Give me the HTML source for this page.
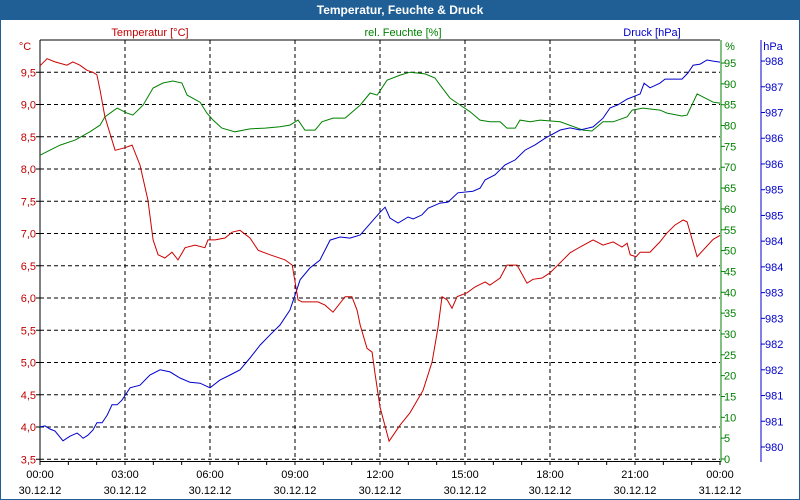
<!DOCTYPE html>
<html><head><meta charset="utf-8"><style>
html,body{margin:0;padding:0;background:#fff;}
svg{display:block;font-family:"Liberation Sans",sans-serif;}
</style></head><body>
<svg id="chart" width="800" height="500" viewBox="0 0 800 500">
<rect x="0" y="0" width="800" height="500" fill="#fff" stroke="#1f5f96" stroke-width="2"/>
<rect x="0" y="0" width="800" height="20" fill="#1f5f96"/>
<text x="400" y="14" text-anchor="middle" fill="#fff" font-size="12" font-weight="bold">Temperatur, Feuchte &amp; Druck</text>
<text x="150" y="36" text-anchor="middle" fill="#c00000" font-size="11">Temperatur [°C]</text>
<text x="403" y="36" text-anchor="middle" fill="#008000" font-size="11">rel. Feuchte [%]</text>
<text x="652" y="36" text-anchor="middle" fill="#0000cc" font-size="11">Druck [hPa]</text>
<text x="25" y="50" text-anchor="middle" fill="#c00000" font-size="11">°C</text>
<text x="730" y="50" text-anchor="middle" fill="#008000" font-size="11">%</text>
<text x="773" y="50" text-anchor="middle" fill="#0000cc" font-size="11">hPa</text>
<g id="grid"></g>
<g id="axes"></g>
<g id="series"></g>
</svg>
<script>
const NS="http://www.w3.org/2000/svg";
const tempTicks=[3.5,4.0,4.5,5.0,5.5,6.0,6.5,7.0,7.5,8.0,8.5,9.0,9.5];
const tempTickLabels=["3,5","4,0","4,5","5,0","5,5","6,0","6,5","7,0","7,5","8,0","8,5","9,0","9,5"];
const humTicks=[0,5,10,15,20,25,30,35,40,45,50,55,60,65,70,75,80,85,90,95];
const presTicks=[980.3,980.8,981.3,981.8,982.3,982.8,983.3,983.8,984.3,984.8,985.3,985.8,986.3,986.8,987.3,987.8];
const presTickLabels=["980","981","981","982","982","983","983","984","984","985","985","986","986","987","987","988"];
const timeTicks=[0,3,6,9,12,15,18,21,24];
const timeLabels=["00:00","03:00","06:00","09:00","12:00","15:00","18:00","21:00","00:00"];
const dateLabels=["30.12.12","30.12.12","30.12.12","30.12.12","30.12.12","30.12.12","30.12.12","30.12.12","31.12.12"];

const tempHours=[0,0.25,0.53,0.95,1.16,1.41,1.66,1.87,2.01,2.12,2.29,2.65,3.0,3.25,3.53,3.81,3.99,4.17,4.41,4.66,4.87,5.12,5.47,5.82,5.93,6.18,6.53,6.78,7.06,7.41,7.70,8.12,8.65,8.90,9.11,9.25,9.81,10.06,10.34,10.77,11.01,11.19,11.30,11.54,11.72,11.82,12.0,12.32,12.71,13.06,13.52,13.84,14.05,14.19,14.37,14.54,14.72,15.07,15.35,15.71,15.88,16.24,16.48,16.84,17.19,17.40,17.72,18.0,18.25,18.71,19.06,19.52,19.87,20.23,20.54,20.72,20.83,21.04,21.18,21.53,21.88,22.13,22.41,22.70,22.84,23.19,23.76,24];
const tempValues=[9.60,9.71,9.66,9.61,9.66,9.61,9.53,9.50,9.46,9.22,8.81,8.29,8.33,8.37,8.06,7.52,6.90,6.67,6.62,6.71,6.59,6.78,6.82,6.78,6.90,6.90,6.93,7.02,7.05,6.93,6.74,6.67,6.59,6.51,5.97,5.94,5.94,5.89,5.78,6.02,6.02,5.81,5.58,5.22,5.16,4.84,4.31,3.78,4.03,4.22,4.57,5.01,5.55,6.02,5.97,5.84,6.02,6.08,6.17,6.25,6.20,6.31,6.51,6.51,6.23,6.29,6.31,6.39,6.50,6.70,6.79,6.90,6.82,6.87,6.79,6.85,6.67,6.64,6.71,6.71,6.87,7.01,7.13,7.21,7.18,6.64,6.91,6.97];

const humHours=[0,0.35,0.71,1.24,1.76,2.12,2.29,2.72,3.07,3.28,3.64,3.99,4.34,4.69,5.01,5.19,5.65,5.89,6.11,6.42,6.88,7.41,7.94,8.47,8.82,9.11,9.35,9.71,9.95,10.34,10.77,11.30,11.65,11.90,12.25,12.71,13.06,13.59,13.94,14.12,14.47,14.83,15.18,15.53,15.88,16.24,16.48,16.77,16.94,17.30,17.65,18.36,19.17,19.48,19.87,20.23,20.72,20.90,21.28,21.88,22.13,22.66,22.84,23.19,23.76,24];
const humValues=[72.9,74.1,75.3,76.5,78.5,80.1,82.1,84.2,83.0,82.5,84.9,89.0,90.2,90.7,90.2,87.3,85.6,83.0,81.3,79.4,78.5,79.2,79.4,79.7,80.1,81.3,78.9,78.9,80.9,81.8,81.8,84.9,87.8,87.3,90.9,92.1,92.8,92.4,91.4,89.7,86.6,84.9,83.3,81.3,80.9,80.9,79.4,79.4,81.3,80.9,81.3,80.9,78.9,78.7,80.9,80.9,82.1,83.7,84.2,83.7,83.0,82.3,82.5,87.6,85.6,85.4];

const presHours=[0,0.18,0.35,0.53,0.81,1.06,1.31,1.41,1.52,1.69,1.87,2.01,2.19,2.37,2.54,2.72,2.89,3.18,3.53,3.88,4.24,4.59,4.94,5.29,5.65,6.00,6.35,6.71,7.06,7.41,7.77,8.12,8.47,8.82,9.00,9.18,9.53,9.88,10.24,10.59,10.94,11.30,12.0,12.18,12.35,12.64,12.99,13.17,13.48,13.70,14.12,14.40,14.75,15.28,15.53,15.71,16.06,16.41,16.77,17.12,17.47,17.83,18.36,18.71,19.06,19.52,19.87,20.12,20.40,20.72,21.18,21.32,21.53,21.88,22.06,22.66,22.87,23.05,23.30,23.54,23.76,24];
const presValues=[980.69,980.71,980.65,980.61,980.42,980.51,980.57,980.53,980.47,980.53,980.63,980.77,980.77,980.92,981.12,981.12,981.21,981.45,981.50,981.70,981.80,981.76,981.64,981.56,981.54,981.45,981.60,981.70,981.80,982.03,982.28,982.48,982.67,982.96,983.25,983.55,983.78,983.93,984.32,984.38,984.36,984.42,984.86,984.96,984.75,984.65,984.77,984.73,984.81,984.94,985.04,985.06,985.24,985.27,985.33,985.49,985.59,985.78,985.88,986.07,986.17,986.30,986.46,986.50,986.46,986.52,986.69,986.89,986.95,987.06,987.16,987.37,987.28,987.37,987.45,987.45,987.57,987.72,987.74,987.82,987.80,987.78];

const X0=40, X1=720, YTOP=40, YBOT=459;
function xs(h){return X0+h*(X1-X0)/24;}
function yT(v){return YTOP+(10-v)*64.5;}
function yH(v){return 459-v*4.168;}
function yP(p){return 447-(p-980.3)*51.46;}
function mk(tag,attrs,parent){const e=document.createElementNS(NS,tag);for(const k in attrs)e.setAttribute(k,attrs[k]);parent.appendChild(e);return e;}
const grid=document.getElementById('grid'), axes=document.getElementById('axes'), series=document.getElementById('series');

tempTicks.forEach((v,i)=>{
  const l=mk('line',{x1:X0,x2:X1,y1:yT(v),y2:yT(v),stroke:'#000','stroke-dasharray':'4,3'},grid);
  
  
  const tk=mk('line',{x1:X0-4,x2:X0,y1:yT(v),y2:yT(v),stroke:'#000'},axes);
  
  
  const t=mk('text',{x:X0-4,y:yT(v)+4,'text-anchor':'end',fill:'#c00000','font-size':'11'},axes);
  t.textContent=tempTickLabels[i];
  
  
});
timeTicks.forEach((h,i)=>{
  if(i>0&&i<timeTicks.length-1){
    const l=mk('line',{x1:xs(h),x2:xs(h),y1:YTOP,y2:YBOT,stroke:'#000','stroke-dasharray':'4,3'},grid);
    
    
  }
  const t1=mk('text',{x:xs(h),y:478,'text-anchor':'middle',fill:'#000','font-size':'11'},axes);
  t1.textContent=timeLabels[i];
  
  
  const t2=mk('text',{x:xs(h),y:494,'text-anchor':'middle',fill:'#000','font-size':'11'},axes);
  t2.textContent=dateLabels[i];
  
  
});
for(let h=0;h<=24;h++){
  const tk=mk('line',{x1:xs(h),x2:xs(h),y1:461,y2:465,stroke:'#000'},axes);
  
  
}
humTicks.forEach(v=>{
  const tk=mk('line',{x1:721,x2:725,y1:yH(v),y2:yH(v),stroke:'#008000'},axes);
  
  
  const t=mk('text',{x:724,y:yH(v)+4,fill:'#008000','font-size':'11'},axes);
  t.textContent=String(v);
  
  
});
presTicks.forEach((p,i)=>{
  const tk=mk('line',{x1:761,x2:765,y1:yP(p),y2:yP(p),stroke:'#0000cc'},axes);
  
  
  const t=mk('text',{x:765,y:yP(p)+4,fill:'#0000cc','font-size':'11'},axes);
  t.textContent=presTickLabels[i];
  
  
});
const a1=mk('line',{x1:X0,x2:X0,y1:YTOP,y2:462,stroke:'#000'},axes);


const a2=mk('line',{x1:X0,x2:X1,y1:YTOP,y2:YTOP,stroke:'#000'},axes);


const a3=mk('line',{x1:X0,x2:X1,y1:461.5,y2:461.5,stroke:'#000'},axes);


const a4=mk('line',{x1:721,x2:721,y1:YTOP,y2:462,stroke:'#008000'},axes);


const a5=mk('line',{x1:761,x2:761,y1:YTOP,y2:462,stroke:'#0000cc'},axes);



function line(hours,vals,yf,color,name){
  const pts=hours.map((h,i)=>xs(h).toFixed(1)+','+yf(vals[i]).toFixed(1)).join(' ');
  const p=mk('polyline',{points:pts,fill:'none',stroke:color,'stroke-width':'1'},series);
  
  
}
line(humHours,humValues,yH,'#008000','humidity-line');
line(presHours,presValues,yP,'#0000cc','pressure-line');
line(tempHours,tempValues,yT,'#cc0000','temperature-line');
</script>
</body></html>
